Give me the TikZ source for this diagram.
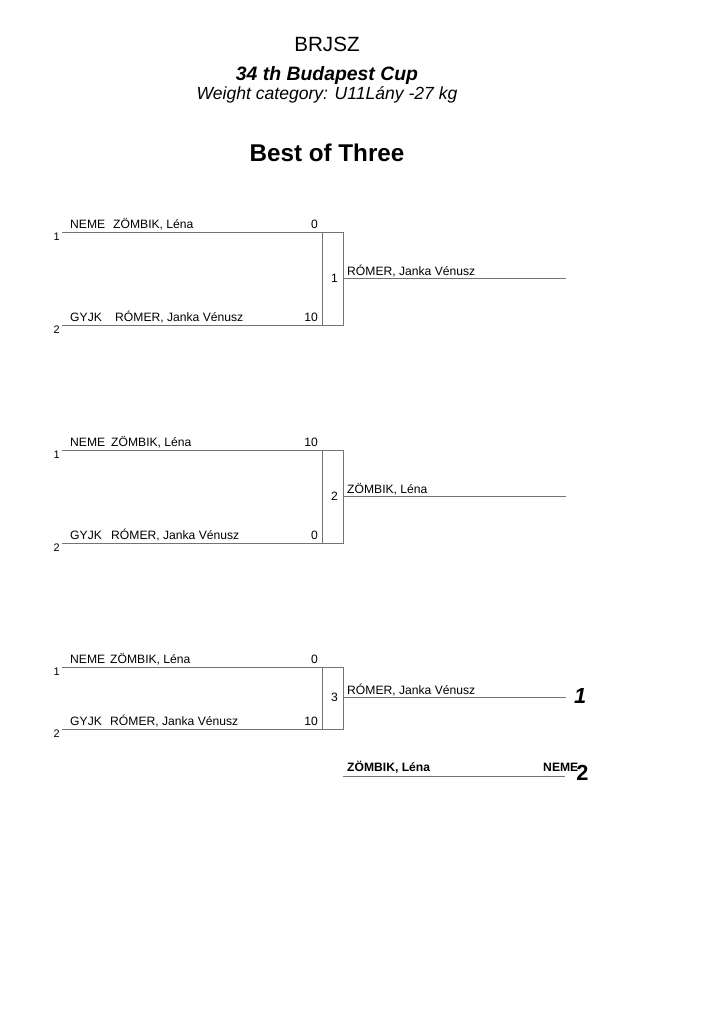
\documentclass[tikz,border=0pt]{standalone}
\usepackage{fontspec}
\setmainfont{Liberation Sans}
\usepackage{tikz}

\tikzset{
  bar/.style={draw=black!55, line width=0.6pt},
  txt/.style={inner sep=0pt, font=\fontsize{10}{12}\selectfont},
  seed/.style={inner sep=0pt, anchor=base east, font=\fontsize{9}{11}\selectfont},
}

\begin{document}
\begin{tikzpicture}[x=0.29mm, y=-0.29mm]
  \useasboundingbox (0,0) rectangle (724,1024);

  % heading
  \node[inner sep=0pt, anchor=base, font=\fontsize{17}{20}\selectfont] (club) at (327,51) {BRJSZ};
  \node[inner sep=0pt, anchor=base, font=\fontsize{16}{19}\selectfont\bfseries\itshape] (cup) at (327,80) {34 th Budapest Cup};
  \node[inner sep=0pt, anchor=base, font=\fontsize{14.5}{17}\selectfont\itshape] (cat) at (327,99) {Weight category: U11Lány -27 kg};
  \node[inner sep=0pt, anchor=base, font=\fontsize{20}{24}\selectfont\bfseries] (title) at (327,161.7) {Best of Three};

  % first fight
  \coordinate (t1) at (62,232);   \coordinate (t1r) at (343,232);
  \coordinate (b1) at (62,325);   \coordinate (b1r) at (343,325);
  \coordinate (v1t) at (322,232); \coordinate (v1b) at (322,325);
  \coordinate (w1) at (343,278.5); \coordinate (w1e) at (566,278.5);
  \draw[bar] (t1) -- (t1r) -- (b1r) -- (b1);
  \draw[bar] (v1t) -- (v1b);
  \draw[bar] (w1) -- (w1e);
  \node[seed] (s1a) at (60,240.5) {1};
  \node[seed] (s1b) at (60,333.5) {2};
  \node[txt, anchor=base west] (c1a) at (70,228.5) {NEME};
  \node[txt, anchor=base west] (n1a) at (113,228.5) {ZÖMBIK, Léna};
  \node[txt, anchor=base east] (p1a) at (318,228.5) {0};
  \node[txt, anchor=base west] (c1b) at (70,321.5) {GYJK};
  \node[txt, anchor=base west] (n1b) at (115,321.5) {RÓMER, Janka Vénusz};
  \node[txt, anchor=base east] (p1b) at (318,321.5) {10};
  \node[txt, anchor=base east] (m1) at (338,282) {1};
  \node[txt, anchor=base west] (win1) at (347,275) {RÓMER, Janka Vénusz};

  % second fight
  \coordinate (t2) at (62,450);   \coordinate (t2r) at (343,450);
  \coordinate (b2) at (62,543);   \coordinate (b2r) at (343,543);
  \coordinate (v2t) at (322,450); \coordinate (v2b) at (322,543);
  \coordinate (w2) at (343,496.5); \coordinate (w2e) at (566,496.5);
  \draw[bar] (t2) -- (t2r) -- (b2r) -- (b2);
  \draw[bar] (v2t) -- (v2b);
  \draw[bar] (w2) -- (w2e);
  \node[seed] (s2a) at (60,458.5) {1};
  \node[seed] (s2b) at (60,551.5) {2};
  \node[txt, anchor=base west] (c2a) at (70,446.5) {NEME};
  \node[txt, anchor=base west] (n2a) at (111,446.5) {ZÖMBIK, Léna};
  \node[txt, anchor=base east] (p2a) at (318,446.5) {10};
  \node[txt, anchor=base west] (c2b) at (70,539.5) {GYJK};
  \node[txt, anchor=base west] (n2b) at (111,539.5) {RÓMER, Janka Vénusz};
  \node[txt, anchor=base east] (p2b) at (318,539.5) {0};
  \node[txt, anchor=base east] (m2) at (338,500) {2};
  \node[txt, anchor=base west] (win2) at (347,493) {ZÖMBIK, Léna};

  % third fight
  \coordinate (t3) at (62,667);   \coordinate (t3r) at (343,667);
  \coordinate (b3) at (62,729);   \coordinate (b3r) at (343,729);
  \coordinate (v3t) at (322,667); \coordinate (v3b) at (322,729);
  \coordinate (w3) at (343,697.5); \coordinate (w3e) at (566,697.5);
  \draw[bar] (t3) -- (t3r) -- (b3r) -- (b3);
  \draw[bar] (v3t) -- (v3b);
  \draw[bar] (w3) -- (w3e);
  \node[seed] (s3a) at (60,675.5) {1};
  \node[seed] (s3b) at (60,737.5) {2};
  \node[txt, anchor=base west] (c3a) at (70,663.5) {NEME};
  \node[txt, anchor=base west] (n3a) at (110,663.5) {ZÖMBIK, Léna};
  \node[txt, anchor=base east] (p3a) at (318,663.5) {0};
  \node[txt, anchor=base west] (c3b) at (70,725.5) {GYJK};
  \node[txt, anchor=base west] (n3b) at (110,725.5) {RÓMER, Janka Vénusz};
  \node[txt, anchor=base east] (p3b) at (318,725.5) {10};
  \node[txt, anchor=base east] (m3) at (338,701) {3};
  \node[txt, anchor=base west] (win3) at (347,694) {RÓMER, Janka Vénusz};

  % placings
  \node[inner sep=0pt, anchor=base west, font=\fontsize{18}{21}\selectfont\bfseries\itshape] (first) at (574,703) {1};
  \coordinate (r2) at (343,776); \coordinate (r2e) at (565,776);
  \draw[bar] (r2) -- (r2e);
  \node[txt, anchor=base west, font=\fontsize{10}{12}\selectfont\bfseries] (second) at (347,771.5) {ZÖMBIK, Léna};
  \node[txt, anchor=base west, font=\fontsize{10}{12}\selectfont\bfseries] (secclub) at (543,771) {NEME};
  \node[inner sep=0pt, anchor=base west, font=\fontsize{18}{21}\selectfont\bfseries] (sec) at (576,780) {2};
\end{tikzpicture}
\end{document}
